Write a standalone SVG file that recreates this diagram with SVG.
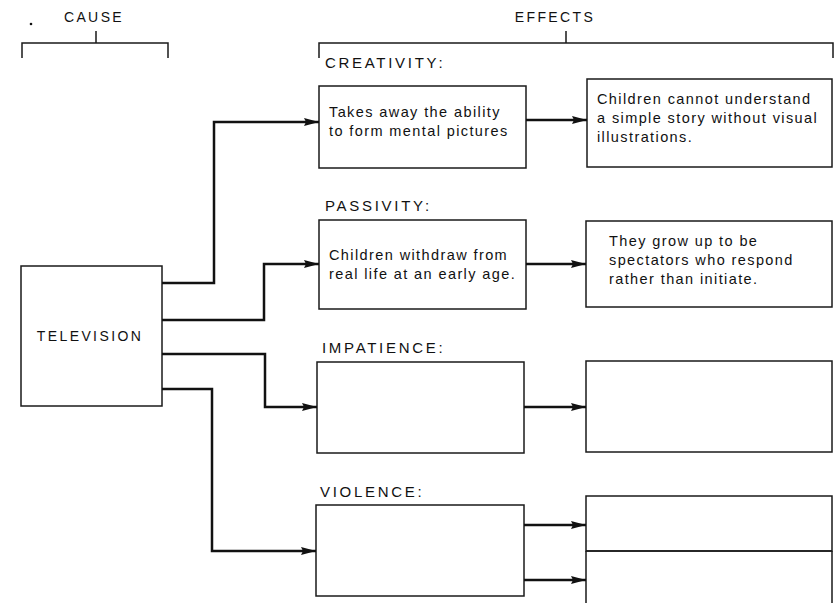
<svg xmlns="http://www.w3.org/2000/svg" width="835" height="603" viewBox="0 0 835 603">
  <defs>
    <marker id="arrow" markerUnits="userSpaceOnUse" markerWidth="16" markerHeight="10" refX="15" refY="5" orient="auto">
      <path d="M0,1 L15,5 L0,9 L2,5 z" fill="#111"/>
    </marker>
    <style>
      .box { fill: none; stroke: #1a1a1a; stroke-width: 1.5; }
      .brk { fill: none; stroke: #1a1a1a; stroke-width: 1.5; }
      .wire-a { fill: none; stroke: #111; stroke-width: 2.5; marker-end: url(#arrow); }
      .cap { font-family: "Liberation Sans", Arial, sans-serif; font-size: 14px; letter-spacing: 2.4px; fill: #111; }
      .lbl { font-family: "Liberation Sans", Arial, sans-serif; font-size: 15px; letter-spacing: 2.7px; fill: #111; }
      .txt { font-family: "Liberation Sans", Arial, sans-serif; font-size: 14.5px; letter-spacing: 1.4px; fill: #111; }
    </style>
  </defs>

  <rect width="835" height="603" fill="#ffffff"/>

  <!-- header brackets -->
  <g id="cause-header">
    <circle cx="31" cy="24" r="1.3" fill="#111"/>
    <text class="cap" x="94" y="22" text-anchor="middle">CAUSE</text>
    <path class="brk" d="M22,58 V43 H168 V58 M96,43 V31"/>
  </g>
  <g id="effects-header">
    <text class="cap" x="555" y="22" text-anchor="middle">EFFECTS</text>
    <path class="brk" d="M319,58 V43 H833 V58 M566,43 V31"/>
  </g>

  <!-- cause -->
  <g id="television">
    <rect class="box" x="21" y="266" width="141" height="140"/>
    <text class="cap" x="90" y="341" text-anchor="middle">TELEVISION</text>
  </g>

  <!-- creativity -->
  <g id="creativity">
    <text class="lbl" x="325" y="68">CREATIVITY:</text>
    <rect class="box" x="319" y="86" width="207" height="82"/>
    <text class="txt" x="329" y="117">Takes away the ability</text>
    <text class="txt" x="329" y="136">to form mental pictures</text>
  </g>
  <g id="creativity-result">
    <rect class="box" x="587" y="79" width="245" height="88"/>
    <text class="txt" x="597" y="104">Children cannot understand</text>
    <text class="txt" x="597" y="123">a simple story without visual</text>
    <text class="txt" x="597" y="142">illustrations.</text>
  </g>

  <!-- passivity -->
  <g id="passivity">
    <text class="lbl" x="325" y="211">PASSIVITY:</text>
    <rect class="box" x="319" y="220" width="207" height="89"/>
    <text class="txt" x="329" y="260">Children withdraw from</text>
    <text class="txt" x="329" y="279">real life at an early age.</text>
  </g>
  <g id="passivity-result">
    <rect class="box" x="586" y="221" width="246" height="86"/>
    <text class="txt" x="609" y="246">They grow up to be</text>
    <text class="txt" x="609" y="265">spectators  who respond</text>
    <text class="txt" x="609" y="284">rather than initiate.</text>
  </g>

  <!-- impatience -->
  <g id="impatience">
    <text class="lbl" x="322" y="353">IMPATIENCE:</text>
    <rect class="box" x="317" y="362" width="207" height="91"/>
  </g>
  <g id="impatience-result">
    <rect class="box" x="586" y="361" width="246" height="91"/>
  </g>

  <!-- violence -->
  <g id="violence">
    <text class="lbl" x="320" y="497">VIOLENCE:</text>
    <rect class="box" x="316" y="505" width="208" height="91"/>
  </g>
  <g id="violence-result-1">
    <path class="box" d="M586,551 V496 H832 V551 Z"/>
  </g>
  <g id="violence-result-2">
    <path class="box" d="M586,551 V606 M832,551 V606 M586,551 H832"/>
  </g>

  <!-- connectors -->
  <g id="connectors">
    <path class="wire-a" d="M162,283 H214 V122 H319"/>
    <path class="wire-a" d="M162,320 H264 V264 H319"/>
    <path class="wire-a" d="M162,354 H265 V407 H317"/>
    <path class="wire-a" d="M162,389 H212 V551 H316"/>
    <path class="wire-a" d="M526,120 H587"/>
    <path class="wire-a" d="M526,264 H586"/>
    <path class="wire-a" d="M524,407 H586"/>
    <path class="wire-a" d="M524,525 H586"/>
    <path class="wire-a" d="M524,580 H586"/>
  </g>
</svg>
